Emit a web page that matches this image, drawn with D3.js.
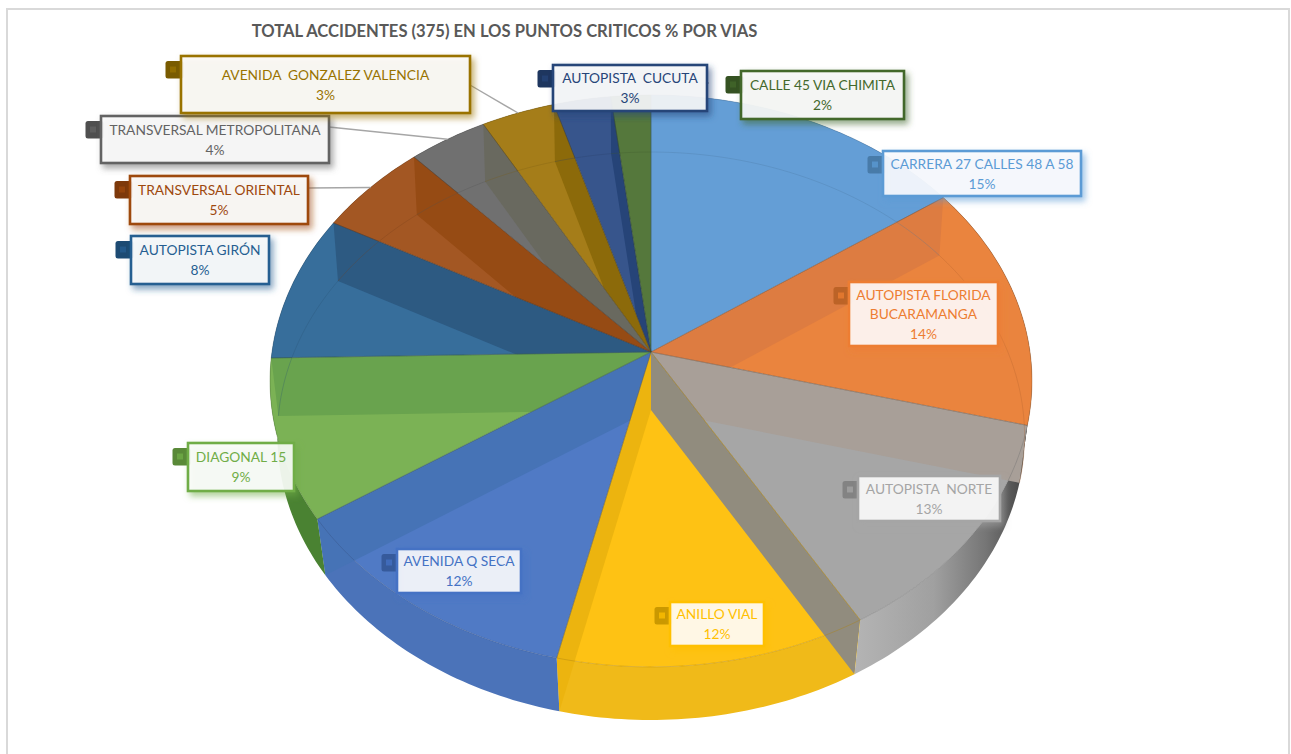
<!DOCTYPE html>
<html>
<head>
<meta charset="utf-8">
<script src="https://cdn.jsdelivr.net/npm/d3@7"></script>
<style>
  html, body { margin: 0; padding: 0; background: #fff; }
  svg { display: block; font-family: Lato, sans-serif; }
  .label-text { font-size: 13.75px; white-space: pre; text-anchor: middle; }
  .chart-title { font-size: 16.6px; font-weight: 700; fill: #595959; text-anchor: middle; }
</style>
</head>
<body>
<div id="chart"></div>
<script>
const TITLE = "TOTAL ACCIDENTES (375) EN LOS PUNTOS CRITICOS % POR VIAS";

// slice data, clockwise from 12 o'clock
const roads = [
  ["CARRERA 27 CALLES 48 A 58"],
  ["AUTOPISTA FLORIDA", "BUCARAMANGA"],
  ["AUTOPISTA  NORTE"],
  ["ANILLO VIAL"],
  ["AVENIDA Q SECA"],
  ["DIAGONAL 15"],
  ["AUTOPISTA GIRÓN"],
  ["TRANSVERSAL ORIENTAL"],
  ["TRANSVERSAL METROPOLITANA"],
  ["AVENIDA  GONZALEZ VALENCIA"],
  ["AUTOPISTA  CUCUTA"],
  ["CALLE 45 VIA CHIMITA"],
];
const accidents = [57, 52, 47, 45, 45, 34, 31, 20, 14, 13, 10, 7];
const percentLabels = ["15%", "14%", "13%", "12%", "12%", "9%", "8%", "5%", "4%", "3%", "3%", "2%"];

const colors = ["#649ed6", "#ea843e", "#a6a6a6", "#fec214", "#507ac5", "#7bb255", "#376e9b", "#a35723", "#707070", "#a57d19", "#37558c", "#55783c"];
const labelColors = ["#5b9bd5", "#ed7d31", "#a5a5a5", "#ffc000", "#4472c4", "#70ad47", "#255e91", "#9e480e", "#636363", "#997300", "#264478", "#43682b"];
const sideColors = ["#4f86bb", "#4a3d30", "url(#gray-side)", "#f0ba19", "#4b73b9", "#4a8232", "#2c587c", "#82461c", "#5a5a5a", "#846414", "#2c4470", "#446030"];
// colour of the cut face at the end of each slice
const wallColors = ["#dd7c41", "#a89f98", "#918c7e", "#ecb40f", "#4673b6", "#69a34e", "#2d5a82", "#964b14", "#69695f", "#8c6a0a", "#264478", "#55783c"];
// slice each cut face shows through
const wallInSlice = [1, 2, 3, 3, 4, 5, 6, 7, 8, 9, 10, 11];

// label boxes: [x, y, w, h]
const boxes = [
  [883, 151, 198, 45],
  [849, 282, 149, 64],
  [858, 476, 142, 45],
  [670, 602, 94, 44],
  [397, 549, 124, 44],
  [188, 443, 106, 48],
  [131, 236, 138, 48],
  [130, 176, 178, 48],
  [101, 116, 228, 47],
  [181, 56, 289, 57],
  [553, 65, 154, 46],
  [741, 71, 163, 48],
];
// which labels have a leader line to the rim
const leaderFrom = { 7: [308, 188], 8: [329, 127], 9: [470, 85] };

const WIDTH = 1291;
const HEIGHT = 754;

// the disc is seen in perspective, so rim points go through a small projection
const TOP_FACE = { cx: 651, cy: 352, a: 379, b: 283, k: 0.1013 };
const BOTTOM_FACE = { cx: 651, cy: 410, a: 372, b: 281.6, k: 0.0916 };

function project(face, angle) {
  const u = Math.sin(angle);
  const v = Math.cos(angle);
  const w = 1 + face.k * v;
  return [face.cx + (face.a * u) / w, face.cy - (face.b * v) / w];
}

function rim(face, a0, a1) {
  const n = Math.max(2, Math.ceil(((a1 - a0) * 180) / Math.PI));
  return d3.range(n + 1).map((i) => project(face, a0 + ((a1 - a0) * i) / n));
}

const line = d3.line();
const closed = (pts) => line(pts) + "Z";
const wedgePath = (d) => closed([[TOP_FACE.cx, TOP_FACE.cy], ...rim(TOP_FACE, d.startAngle, d.endAngle)]);
const sidePath = (d) => closed([...rim(TOP_FACE, d.startAngle, d.endAngle), ...rim(BOTTOM_FACE, d.startAngle, d.endAngle).reverse()]);

const slices = d3.pie().sort(null).value((d) => d)(accidents);

const svg = d3.select("#chart").append("svg").attr("width", WIDTH).attr("height", HEIGHT);
const defs = svg.append("defs");

const sideGradient = defs
  .append("linearGradient")
  .attr("id", "gray-side")
  .attr("gradientUnits", "userSpaceOnUse")
  .attr("x1", 855)
  .attr("x2", 1030)
  .attr("y1", 0)
  .attr("y2", 0);
[[0, "#b4b4b4"], [0.45, "#a0a0a0"], [0.75, "#757575"], [0.93, "#4e4e4e"], [1, "#3a3a36"]].forEach(([o, c]) => {
  sideGradient.append("stop").attr("offset", o).attr("stop-color", c);
});

labelColors.forEach((c, i) => {
  const f = defs
    .append("filter")
    .attr("id", `shadow-${i}`)
    .attr("x", "-15%")
    .attr("y", "-25%")
    .attr("width", "130%")
    .attr("height", "160%");
  f.append("feDropShadow")
    .attr("dx", 3)
    .attr("dy", 4)
    .attr("stdDeviation", 3)
    .attr("flood-color", c)
    .attr("flood-opacity", 0.6);
});

// a cut face only shows inside its slice and the outer side below it
slices.forEach((d, i) => {
  const clip = defs.append("clipPath").attr("id", `slice-clip-${i}`);
  clip.append("path").attr("d", wedgePath(d));
  clip.append("path").attr("d", sidePath(d));
});

// chart frame
svg
  .append("rect")
  .attr("x", 7)
  .attr("y", 9)
  .attr("width", 1282)
  .attr("height", 760)
  .attr("fill", "#fff")
  .attr("stroke", "#d9d9d9")
  .attr("stroke-width", 2);

svg.append("text").attr("class", "chart-title").attr("x", 504.5).attr("y", 36.5).text(TITLE);

// outer side of the disc
svg
  .append("g")
  .selectAll("path")
  .data(slices)
  .join("path")
  .attr("d", sidePath)
  .attr("fill", (d, i) => sideColors[i]);

// top faces
svg
  .append("g")
  .selectAll("path")
  .data(slices)
  .join("path")
  .attr("d", wedgePath)
  .attr("fill", (d, i) => colors[i]);

// cut faces seen through the disc
svg
  .append("g")
  .selectAll("path")
  .data(slices)
  .join("path")
  .attr("d", (d) =>
    closed([
      [TOP_FACE.cx, TOP_FACE.cy],
      project(TOP_FACE, d.endAngle),
      project(BOTTOM_FACE, d.endAngle),
      [BOTTOM_FACE.cx, BOTTOM_FACE.cy],
    ])
  )
  .attr("clip-path", (d, i) => `url(#slice-clip-${wallInSlice[i]})`)
  .attr("fill", (d, i) => wallColors[i]);

// far edge of the bottom face shows faintly through the top
svg
  .append("g")
  .selectAll("path")
  .data(slices)
  .join("path")
  .attr("d", (d) => line(rim(BOTTOM_FACE, d.startAngle, d.endAngle)))
  .attr("fill", "none")
  .attr("stroke", (d, i) => d3.color(colors[i]).darker(0.9).formatHex())
  .attr("stroke-opacity", (d) => (Math.cos((d.startAngle + d.endAngle) / 2) > -0.1 ? 0.35 : 0))
  .attr("stroke-width", 0.8);

// slice outlines
svg
  .append("g")
  .selectAll("path")
  .data(slices)
  .join("path")
  .attr("d", wedgePath)
  .attr("fill", "none")
  .attr("stroke", (d, i) => d3.color(colors[i]).darker(1.1).formatHex())
  .attr("stroke-opacity", 0.5)
  .attr("stroke-width", 0.8);

// leader lines
const leaderData = Object.keys(leaderFrom).map((k) => +k);
svg
  .append("g")
  .selectAll("line")
  .data(leaderData)
  .join("line")
  .attr("x1", (i) => leaderFrom[i][0])
  .attr("y1", (i) => leaderFrom[i][1])
  .attr("x2", (i) => project(TOP_FACE, (slices[i].startAngle + slices[i].endAngle) / 2)[0])
  .attr("y2", (i) => project(TOP_FACE, (slices[i].startAngle + slices[i].endAngle) / 2)[1])
  .attr("stroke", "#a6a6a6")
  .attr("stroke-width", 1.4);
svg.append("line").attr("x1", 705).attr("x2", 709).attr("y1", 83).attr("y2", 83).attr("stroke", "#a6a6a6").attr("stroke-width", 1.4);

// data labels
const label = svg
  .append("g")
  .selectAll("g")
  .data(roads)
  .join("g")
  .attr("class", "data-label");

label
  .append("rect")
  .attr("x", (d, i) => boxes[i][0] - 15.5)
  .attr("y", (d, i) => boxes[i][1] + 5)
  .attr("width", 18)
  .attr("height", 17.5)
  .attr("rx", 2.5)
  .attr("fill", (d, i) => d3.color(labelColors[i]).darker(0.65).formatHex());
label
  .append("rect")
  .attr("x", (d, i) => boxes[i][0] - 11)
  .attr("y", (d, i) => boxes[i][1] + 10.5)
  .attr("width", 6)
  .attr("height", 6)
  .attr("fill", (d, i) => labelColors[i])
  .attr("fill-opacity", 0.75);

label
  .append("rect")
  .attr("x", (d, i) => boxes[i][0])
  .attr("y", (d, i) => boxes[i][1])
  .attr("width", (d, i) => boxes[i][2])
  .attr("height", (d, i) => boxes[i][3])
  .attr("fill", (d, i) => d3.interpolateRgb(labelColors[i], "#fff")(0.97))
  .attr("fill-opacity", 0.89)
  .attr("stroke", (d, i) => labelColors[i])
  .attr("stroke-width", 2.6)
  .attr("filter", (d, i) => `url(#shadow-${i})`);

label.each(function (lines, i) {
  const [bx, by, bw, bh] = boxes[i];
  const rows = [...lines, percentLabels[i]];
  const step = 19.6;
  const y0 = by + bh / 2 - ((rows.length - 1) * step) / 2 + 5.2;
  d3.select(this)
    .selectAll("text")
    .data(rows)
    .join("text")
    .attr("class", "label-text")
    .attr("x", bx + bw / 2)
    .attr("y", (r, j) => y0 + j * step)
    .attr("fill", labelColors[i])
    .text((r) => r);
});
</script>
</body>
</html>
